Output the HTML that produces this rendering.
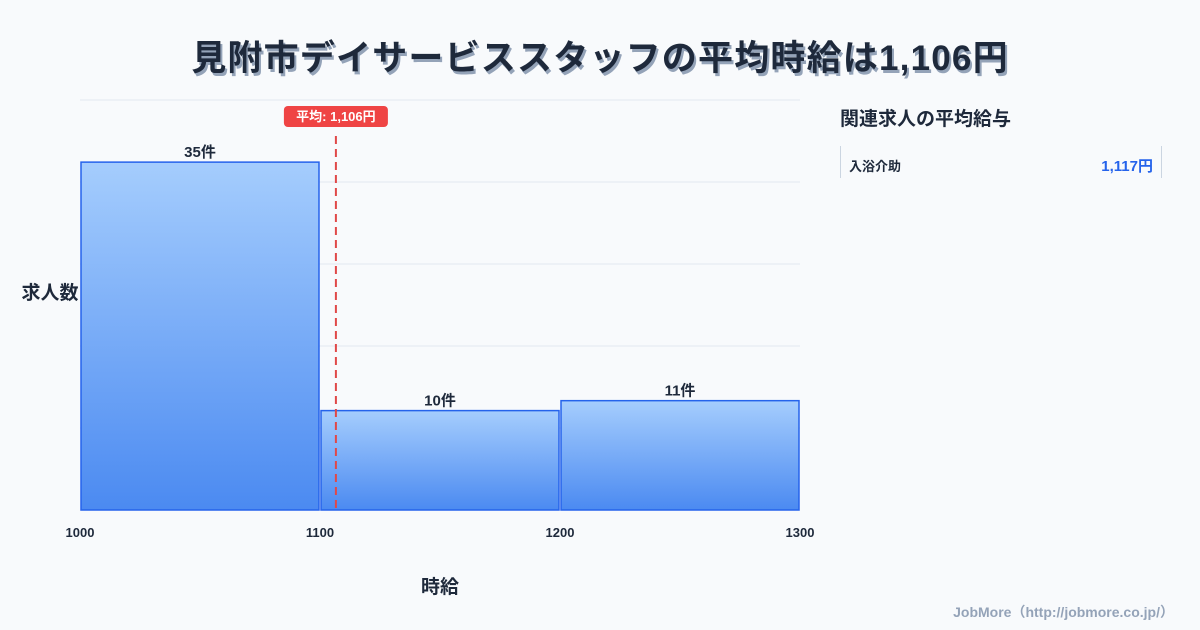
<!DOCTYPE html>
<html><head><meta charset="utf-8"><style>
body{margin:0;width:1200px;height:630px;background:#f8fafc;font-family:"Liberation Sans","Noto Sans CJK JP",sans-serif;position:relative;overflow:hidden;color:#1e293b}
.t{position:absolute;left:0;width:1200px;top:30px;text-align:center;font-size:35px;font-weight:bold;color:#1e293b;text-shadow:2px 3px 0 #94a3b8;letter-spacing:1.2px}
.side{position:absolute;left:840px;top:104px;font-size:19px;font-weight:bold;color:#1e293b}
.card{position:absolute;left:840px;top:146px;width:320px;height:32px;border-left:1px solid #cbd5e1;border-right:1px solid #cbd5e1}
.card .n{position:absolute;left:8px;top:10px;font-size:13px;font-weight:bold}
.card .v{position:absolute;right:8px;top:9px;font-size:15px;font-weight:bold;color:#2563eb}
.src{position:absolute;right:26px;top:602px;font-size:14px;font-weight:bold;color:#94a3b8}
</style></head><body>
<div class="t">見附市デイサービススタッフの平均時給は1,106円</div>
<div class="side">関連求人の平均給与</div>
<div class="card"><span class="n">入浴介助</span><span class="v">1,117円</span></div>
<div class="src">JobMore（http://jobmore.co.jp/）</div>
<svg id="c" width="1200" height="630" style="position:absolute;left:0;top:0">
<defs><linearGradient id="g" x1="0" y1="0" x2="0" y2="1"><stop offset="0" stop-color="#a5cdfd"/><stop offset="1" stop-color="#4b8af1"/></linearGradient></defs>
</svg>
<script>
const binStarts=[1000,1100,1200];
const binEnds=[1100,1200,1300];
const counts=[35,10,11];
const xTicks=[1000,1100,1200,1300];
const avgValue=1106;
const avgLabel="平均: 1,106円";
const yMax=41.25;
const svg=document.getElementById('c');const NS='http://www.w3.org/2000/svg';
const x=v=>80+(v-1000)/300*720;const y=v=>510-v/yMax*410;
function mk(t,a,txt){const e=document.createElementNS(NS,t);for(const k in a)e.setAttribute(k,a[k]);if(txt!=null)e.textContent=txt;svg.appendChild(e);return e;}
for(let i=0;i<=5;i++){const e=mk('line',{x1:80,x2:800,y1:y(yMax*i/5),y2:y(yMax*i/5),stroke:'#e2e8f0','stroke-width':1});

}
counts.forEach((c,i)=>{const x0=x(binStarts[i])+1,x1=x(binEnds[i])-1;
const r=mk('rect',{x:x0,y:y(c),width:x1-x0,height:510-y(c),fill:'url(#g)',stroke:'#2563eb','stroke-width':1.5});


const t=mk('text',{x:(x0+x1)/2,y:y(c)-5,'text-anchor':'middle','font-size':15,'font-weight':'bold',fill:'#1e293b'},c+'件');

});
xTicks.forEach(v=>{const t=mk('text',{x:x(v),y:537,'text-anchor':'middle','font-size':13,'font-weight':'bold',fill:'#1e293b'},v);

});
const ax=x(avgValue)+1.5;
const l=mk('line',{x1:ax,x2:ax,y1:136,y2:510,stroke:'#e04848','stroke-width':2,'stroke-dasharray':'8,5'});


const b=mk('rect',{x:ax-52,y:106,width:104,height:21,rx:4,fill:'#ef4444'});


const bt=mk('text',{x:ax,y:121,'text-anchor':'middle','font-size':13,'font-weight':'bold',fill:'#fff'},avgLabel);


const yt=mk('text',{x:50,y:299,'text-anchor':'middle','font-size':19,'font-weight':'bold',fill:'#1e293b'},'求人数');


const xt=mk('text',{x:440,y:593,'text-anchor':'middle','font-size':19,'font-weight':'bold',fill:'#1e293b'},'時給');


</script>
</body></html>
